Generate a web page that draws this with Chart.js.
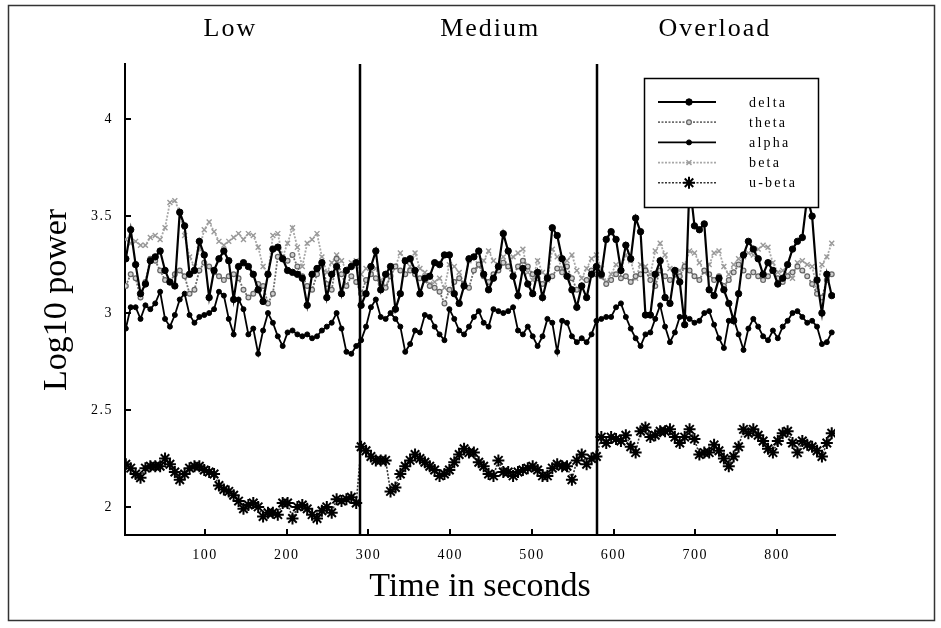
<!DOCTYPE html>
<html>
<head>
<meta charset="utf-8">
<script src="https://cdn.jsdelivr.net/npm/chart.js@4/dist/chart.umd.min.js"></script>
<style>
html, body { margin: 0; padding: 0; background: #fff; }
canvas { display: block; }
</style>
</head>
<body>
<canvas id="myChart" width="941" height="628"></canvas>
<script>
// time in seconds, one sample every 6 s
const times = [
  3,9,15,21,27,33,39,45,51,57,63,69,75,81,87,93,99,105,111,117,123,129,135,141,147,153,159,165,171,177,183,189,195,201,207,213,219,225,231,237,243,249,255,261,267,273,279,285,
  291,297,303,309,315,321,327,333,339,345,351,357,363,369,375,381,387,393,399,405,411,417,423,429,435,441,447,453,459,465,471,477,483,489,495,501,507,513,519,525,531,537,543,549,555,561,567,573,579,
  585,591,597,603,609,615,621,627,633,639,645,651,657,663,669,675,681,687,693,699,705,711,717,723,729,735,741,747,753,759,765,771,777,783,789,795,801,807,813,819,825,831,837,843,849,855,861,867
];

const delta = [
  3.28,3.43,3.25,3.10,3.15,3.27,3.29,3.32,3.22,3.16,3.14,3.52,3.45,3.20,3.22,3.37,3.30,3.08,3.22,3.28,3.32,3.27,3.07,3.24,3.26,3.24,3.20,3.12,3.06,3.20,3.33,3.34,3.28,3.22,3.21,3.20,3.18,3.04,3.20,3.23,3.26,3.08,3.20,3.24,3.10,3.22,3.24,3.26,
  3.04,3.10,3.24,3.32,3.12,3.20,3.24,3.02,3.10,3.27,3.28,3.22,3.10,3.18,3.19,3.26,3.25,3.30,3.30,3.10,3.05,3.14,3.28,3.29,3.32,3.20,3.12,3.18,3.24,3.41,3.32,3.19,3.09,3.23,3.15,3.10,3.21,3.08,3.18,3.44,3.40,3.28,3.19,3.12,3.03,3.14,3.08,3.20,3.24,
  3.20,3.38,3.42,3.38,3.22,3.35,3.28,3.49,3.42,2.99,2.99,3.20,3.27,3.08,3.05,3.22,3.16,2.94,3.68,3.45,3.43,3.46,3.12,3.09,3.18,3.12,3.05,2.96,3.10,3.30,3.37,3.33,3.28,3.20,3.26,3.22,3.15,3.18,3.25,3.33,3.37,3.39,3.60,3.50,3.17,3.00,3.20,3.09
];

const theta = [
  3.14,3.20,3.18,3.08,3.16,3.28,3.27,3.22,3.17,3.16,3.20,3.22,3.19,3.10,3.12,3.22,3.26,3.24,3.21,3.19,3.17,3.19,3.20,3.18,3.12,3.08,3.10,3.15,3.14,3.05,3.10,3.29,3.28,3.27,3.30,3.24,3.19,3.14,3.12,3.20,3.25,3.15,3.12,3.28,3.20,3.14,3.19,3.16,
  3.10,3.17,3.20,3.18,3.15,3.13,3.19,3.24,3.22,3.20,3.22,3.20,3.18,3.17,3.14,3.13,3.11,3.05,3.12,3.16,3.18,3.15,3.13,3.22,3.25,3.19,3.16,3.20,3.22,3.26,3.24,3.19,3.24,3.27,3.24,3.20,3.18,3.15,3.19,3.19,3.23,3.21,3.24,3.18,3.12,3.14,3.17,3.22,3.20,
  3.19,3.15,3.17,3.20,3.18,3.19,3.16,3.19,3.20,3.22,3.17,3.14,3.22,3.19,3.17,3.20,3.19,3.24,3.22,3.19,3.17,3.22,3.20,3.17,3.19,3.14,3.17,3.21,3.25,3.22,3.19,3.21,3.19,3.17,3.19,3.22,3.18,3.16,3.19,3.21,3.24,3.22,3.19,3.15,3.10,3.08,3.17,3.20
];

const alpha = [
  2.92,3.03,3.03,2.97,3.04,3.02,3.05,3.11,2.97,2.93,2.99,3.07,3.10,2.99,2.95,2.98,2.99,3.00,3.02,3.11,3.09,2.97,2.89,3.07,3.02,2.89,2.92,2.79,2.91,3.00,2.95,2.88,2.83,2.90,2.91,2.89,2.88,2.89,2.87,2.88,2.91,2.93,2.95,3.00,2.92,2.80,2.79,2.83,
  2.86,2.93,3.03,3.07,2.98,2.97,3.00,2.97,2.93,2.80,2.84,2.91,2.90,2.99,2.98,2.93,2.89,2.86,3.02,2.97,2.91,2.89,2.93,2.98,3.01,2.95,2.93,3.02,3.01,3.00,3.01,3.03,2.91,2.89,2.93,2.88,2.83,2.88,2.97,2.95,2.80,2.96,2.95,2.88,2.85,2.87,2.85,2.89,2.96,
  2.97,2.98,2.98,3.03,3.05,2.98,2.92,2.87,2.83,2.89,2.90,2.97,3.04,2.93,2.85,2.90,2.98,2.98,2.97,2.95,2.96,3.00,3.01,2.94,2.87,2.82,2.96,2.97,2.89,2.81,2.92,2.97,2.93,2.88,2.86,2.91,2.87,2.93,2.96,3.00,3.01,2.98,2.95,2.96,2.93,2.84,2.85,2.90
];

const beta = [
  3.38,3.36,3.37,3.35,3.35,3.39,3.40,3.38,3.44,3.57,3.58,3.52,3.40,3.29,3.24,3.33,3.43,3.47,3.42,3.37,3.35,3.37,3.39,3.41,3.38,3.41,3.40,3.34,3.24,3.20,3.40,3.41,3.29,3.36,3.44,3.34,3.24,3.36,3.38,3.41,3.29,3.21,3.26,3.30,3.27,3.22,3.26,3.27,
  3.20,3.23,3.22,3.23,3.17,3.14,3.19,3.24,3.31,3.27,3.24,3.31,3.23,3.21,3.15,3.16,3.18,3.13,3.25,3.24,3.21,3.15,3.27,3.29,3.24,3.27,3.32,3.27,3.25,3.29,3.24,3.29,3.31,3.33,3.21,3.17,3.27,3.21,3.17,3.33,3.29,3.23,3.27,3.30,3.22,3.18,3.23,3.28,3.30,
  3.23,3.16,3.20,3.25,3.23,3.30,3.27,3.18,3.25,3.24,3.20,3.32,3.36,3.30,3.23,3.19,3.22,3.25,3.32,3.31,3.26,3.21,3.25,3.31,3.32,3.24,3.20,3.25,3.28,3.29,3.31,3.30,3.33,3.35,3.34,3.26,3.21,3.22,3.20,3.18,3.26,3.27,3.25,3.24,3.13,3.25,3.29,3.36
];

const uBeta = [
  2.22,2.20,2.17,2.15,2.20,2.21,2.21,2.21,2.25,2.22,2.18,2.14,2.17,2.20,2.21,2.21,2.19,2.18,2.17,2.11,2.09,2.08,2.06,2.03,1.99,2.01,2.02,2.00,1.95,1.97,1.97,1.96,2.02,2.02,1.94,2.00,2.01,1.99,1.96,1.94,1.98,2.00,1.97,2.04,2.03,2.04,2.05,2.02,
  2.31,2.29,2.26,2.24,2.24,2.24,2.08,2.10,2.17,2.21,2.24,2.27,2.25,2.23,2.21,2.19,2.16,2.17,2.19,2.23,2.27,2.30,2.28,2.28,2.23,2.21,2.17,2.16,2.24,2.18,2.18,2.16,2.18,2.19,2.20,2.21,2.19,2.16,2.16,2.20,2.22,2.21,2.21,2.14,2.24,2.27,2.22,2.25,2.26,
  2.36,2.33,2.36,2.35,2.34,2.37,2.31,2.28,2.39,2.41,2.36,2.37,2.39,2.39,2.40,2.36,2.33,2.36,2.40,2.35,2.27,2.28,2.28,2.32,2.29,2.25,2.21,2.26,2.31,2.40,2.38,2.40,2.37,2.34,2.30,2.28,2.34,2.38,2.39,2.33,2.28,2.34,2.32,2.31,2.29,2.26,2.33,2.38
];

const xTicks = [100, 200, 300, 400, 500, 600, 700, 800];
const yTicks = [2, 2.5, 3, 3.5, 4];
const sectionBreaks = [290, 580];
const sectionNames = ['Low', 'Medium', 'Overload'];

const SERIF = '"Liberation Serif", "DejaVu Serif", serif';

function pts(arr) {
  return times.map((t, i) => ({ x: t, y: arr[i] }));
}

// frame, headings, axis titles, inner tick marks, section lines and the legend
const decorations = {
  id: 'decorations',
  beforeDraw(chart) {
    const ctx = chart.ctx;
    ctx.save();
    ctx.strokeStyle = '#333';
    ctx.lineWidth = 1.5;
    ctx.strokeRect(8.5, 5.5, 926, 615);
    ctx.restore();
    ctx.letterSpacing = '1.5px';
  },
  afterDatasetsDraw(chart) {
    const ctx = chart.ctx;
    const x = chart.scales.x, y = chart.scales.y;
    const area = chart.chartArea;
    ctx.save();
    ctx.letterSpacing = '0px';

    // section separators
    ctx.strokeStyle = '#000';
    ctx.lineWidth = 2.5;
    sectionBreaks.forEach(t => {
      const px = Math.round(x.getPixelForValue(t));
      ctx.beginPath();
      ctx.moveTo(px, area.top);
      ctx.lineTo(px, area.bottom);
      ctx.stroke();
    });

    // inward tick marks
    ctx.lineWidth = 2;
    xTicks.forEach(t => {
      const px = Math.round(x.getPixelForValue(t));
      ctx.beginPath();
      ctx.moveTo(px, area.bottom);
      ctx.lineTo(px, area.bottom - 6);
      ctx.stroke();
    });
    yTicks.forEach(v => {
      const py = Math.round(y.getPixelForValue(v));
      ctx.beginPath();
      ctx.moveTo(area.left, py);
      ctx.lineTo(area.left + 6, py);
      ctx.stroke();
    });

    // section headings
    ctx.fillStyle = '#000';
    ctx.font = '26px ' + SERIF;
    ctx.textAlign = 'center';
    ctx.textBaseline = 'middle';
    ctx.letterSpacing = '2px';
    const headX = [131, 449, 724];
    sectionNames.forEach((name, i) => {
      ctx.fillText(name, x.getPixelForValue(headX[i]), 29);
    });

    // axis titles
    ctx.letterSpacing = '0px';
    ctx.font = '34px ' + SERIF;
    ctx.fillText('Time in seconds', 480, 587);
    ctx.save();
    ctx.translate(57, 300);
    ctx.rotate(-Math.PI / 2);
    ctx.fillText('Log10 power', 0, 0);
    ctx.restore();

    // legend box over the data
    const bx = 644, by = 78, bw = 174, bh = 129;
    ctx.fillStyle = '#fff';
    ctx.fillRect(bx, by, bw, bh);
    ctx.strokeStyle = '#000';
    ctx.lineWidth = 1.5;
    ctx.strokeRect(bx + 0.5, by + 0.5, bw, bh);

    ctx.font = '14px ' + SERIF;
    ctx.textAlign = 'left';
    ctx.letterSpacing = '2.2px';
    chart.data.datasets.forEach((ds, i) => {
      const ry = 102 + i * 20.2;
      ctx.save();
      ctx.strokeStyle = ds.borderColor;
      ctx.lineWidth = ds.borderWidth;
      ctx.setLineDash(ds.borderDash || []);
      ctx.beginPath();
      ctx.moveTo(658, ry);
      ctx.lineTo(716, ry);
      ctx.stroke();
      ctx.setLineDash([]);
      ctx.fillStyle = ds.pointBackgroundColor;
      ctx.strokeStyle = ds.pointBorderColor;
      ctx.lineWidth = ds.pointBorderWidth;
      if (Chart.helpers && Chart.helpers.drawPoint) {
        Chart.helpers.drawPoint(ctx, {
          pointStyle: ds.pointStyle, radius: ds.pointRadius, rotation: 0,
          borderWidth: ds.pointBorderWidth
        }, 689, ry);
      } else {
        ctx.beginPath();
        ctx.arc(689, ry, ds.pointRadius, 0, Math.PI * 2);
        ctx.fill();
        ctx.stroke();
      }
      ctx.restore();
      ctx.fillStyle = '#000';
      ctx.fillText(ds.label, 749, ry + 1);
    });
    ctx.restore();
  }
};

const ctx = document.getElementById('myChart').getContext('2d');
const chart = new Chart(ctx, {
  type: 'line',
  data: {
    datasets: [
      {
        label: 'delta', data: pts(delta),
        borderColor: '#000', borderWidth: 2.2,
        pointStyle: 'circle', pointRadius: 3.2, pointBorderWidth: 1,
        pointBackgroundColor: '#000', pointBorderColor: '#000'
      },
      {
        label: 'theta', data: pts(theta),
        borderColor: '#6e6e6e', borderWidth: 1.8, borderDash: [2, 1.5],
        pointStyle: 'circle', pointRadius: 2.4, pointBorderWidth: 1.2,
        pointBackgroundColor: '#d0d0d0', pointBorderColor: '#666'
      },
      {
        label: 'alpha', data: pts(alpha),
        borderColor: '#000', borderWidth: 1.8,
        pointStyle: 'circle', pointRadius: 2.5, pointBorderWidth: 1,
        pointBackgroundColor: '#000', pointBorderColor: '#000'
      },
      {
        label: 'beta', data: pts(beta),
        borderColor: '#a8a8a8', borderWidth: 1.8, borderDash: [2, 1.5],
        pointStyle: 'crossRot', pointRadius: 3.5, pointBorderWidth: 1.4,
        pointBackgroundColor: '#999', pointBorderColor: '#999'
      },
      {
        label: 'u-beta', data: pts(uBeta),
        borderColor: '#333', borderWidth: 1.6, borderDash: [2, 1.5],
        pointStyle: 'star', pointRadius: 6, pointBorderWidth: 2,
        pointBackgroundColor: '#000', pointBorderColor: '#000'
      }
    ]
  },
  options: {
    responsive: false,
    animation: false,
    devicePixelRatio: 1,
    events: [],
    layout: { padding: { top: 64, right: 106, left: 0, bottom: 0 } },
    elements: { line: { tension: 0 } },
    plugins: { legend: { display: false }, tooltip: { enabled: false } },
    scales: {
      x: {
        type: 'linear', min: 2, max: 871,
        grid: { display: false, drawTicks: false },
        border: { display: true, color: '#000', width: 2 },
        afterFit: s => { s.height = 93; },
        afterBuildTicks: s => { s.ticks = xTicks.map(v => ({ value: v })); },
        ticks: {
          autoSkip: false, maxRotation: 0, padding: 12, color: '#000',
          font: { family: SERIF, size: 14 },
          callback: v => String(v)
        }
      },
      y: {
        type: 'linear', min: 1.855, max: 4.285,
        grid: { display: false, drawTicks: false },
        border: { display: true, color: '#000', width: 2 },
        afterFit: s => { s.width = 125; },
        afterBuildTicks: s => { s.ticks = yTicks.map(v => ({ value: v })); },
        ticks: {
          padding: 12, color: '#000',
          font: { family: SERIF, size: 14 },
          callback: v => String(v)
        }
      }
    }
  },
  plugins: [decorations]
});
</script>
</body>
</html>
